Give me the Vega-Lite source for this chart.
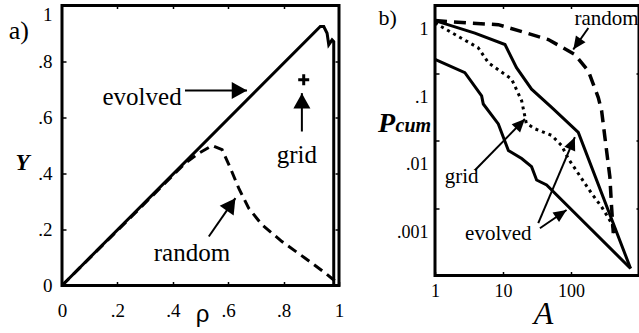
{
  "$schema": "https://vega.github.io/schema/vega-lite/v6.json",
  "background": "white",
  "padding": {"left": 7, "top": 2.5, "right": 0, "bottom": 50},
  "bounds": "flush",
  "spacing": 96,
  "config": {
    "view": {"stroke": "black", "strokeWidth": 3},
    "axis": {"domain": false, "grid": false, "offset": -4, "tickSize": 4, "tickWidth": 1.5, "tickColor": "black", "labelColor": "black", "labelFont": "Liberation Serif", "labelFlush": false, "labelOverlap": false, "titleColor": "black", "titleFont": "Liberation Serif", "titleFontWeight": "normal"},
    "text": {"font": "Liberation Serif", "color": "black"}
  },
  "datasets": {
    "a_evolved": [
      {"i": 0, "rho": 0, "Y": 0},
      {"i": 1, "rho": 0.9325, "Y": 0.925},
      {"i": 2, "rho": 0.945, "Y": 0.925},
      {"i": 3, "rho": 0.957, "Y": 0.901},
      {"i": 4, "rho": 0.963, "Y": 0.86},
      {"i": 5, "rho": 0.975, "Y": 0.877},
      {"i": 6, "rho": 0.981, "Y": 0.871},
      {"i": 7, "rho": 0.981, "Y": 0}
    ],
    "a_random": [
      {"i": 0, "rho": 0, "Y": 0},
      {"i": 1, "rho": 0.445, "Y": 0.437},
      {"i": 2, "rho": 0.494, "Y": 0.4725},
      {"i": 3, "rho": 0.542, "Y": 0.5},
      {"i": 4, "rho": 0.578, "Y": 0.485},
      {"i": 5, "rho": 0.608, "Y": 0.419},
      {"i": 6, "rho": 0.638, "Y": 0.3475},
      {"i": 7, "rho": 0.674, "Y": 0.276},
      {"i": 8, "rho": 0.722, "Y": 0.217},
      {"i": 9, "rho": 0.794, "Y": 0.157},
      {"i": 10, "rho": 0.878, "Y": 0.0975},
      {"i": 11, "rho": 0.951, "Y": 0.044},
      {"i": 12, "rho": 0.987, "Y": 0.015}
    ],
    "a_grid": [{"rho": 0.8726, "Y": 0.7346}],
    "a_arrows": [
      {"id": "evolved", "x1": 0.444, "y1": 0.696, "x2": 0.668, "y2": 0.696},
      {"id": "grid", "x1": 0.866, "y1": 0.55, "x2": 0.866, "y2": 0.687},
      {"id": "random", "x1": 0.53, "y1": 0.175, "x2": 0.626, "y2": 0.312}
    ],
    "a_labels": [
      {"label": "evolved", "rho": 0.289, "Y": 0.646},
      {"label": "grid", "rho": 0.848, "Y": 0.437},
      {"label": "random", "rho": 0.469, "Y": 0.089}
    ],
    "a_panel": [{"label": "a)", "rho": -0.1925, "Y": 0.879}],
    "b_evolved": [
      {"series": "upper", "i": 0, "A": 1, "P": 0.596},
      {"series": "upper", "i": 1, "A": 3.86, "P": 0.39},
      {"series": "upper", "i": 2, "A": 10.7, "P": 0.264},
      {"series": "upper", "i": 3, "A": 15.8, "P": 0.12},
      {"series": "upper", "i": 4, "A": 26.3, "P": 0.0575},
      {"series": "upper", "i": 5, "A": 51.9, "P": 0.0309},
      {"series": "upper", "i": 6, "A": 128, "P": 0.0132},
      {"series": "upper", "i": 7, "A": 752, "P": 0.000127},
      {"series": "lower", "i": 0, "A": 1, "P": 0.159},
      {"series": "lower", "i": 1, "A": 2.75, "P": 0.101},
      {"series": "lower", "i": 2, "A": 4.85, "P": 0.0459},
      {"series": "lower", "i": 3, "A": 5.13, "P": 0.0347},
      {"series": "lower", "i": 4, "A": 8.53, "P": 0.0176},
      {"series": "lower", "i": 5, "A": 12, "P": 0.00713},
      {"series": "lower", "i": 6, "A": 18.8, "P": 0.0054},
      {"series": "lower", "i": 7, "A": 26.3, "P": 0.0041},
      {"series": "lower", "i": 8, "A": 31.2, "P": 0.0026},
      {"series": "lower", "i": 9, "A": 43.8, "P": 0.0022},
      {"series": "lower", "i": 10, "A": 752, "P": 0.000127}
    ],
    "b_grid": [
      {"i": 0, "A": 1, "P": 0.55},
      {"i": 1, "A": 4.33, "P": 0.236},
      {"i": 2, "A": 6.08, "P": 0.142},
      {"i": 3, "A": 13.4, "P": 0.081},
      {"i": 4, "A": 18.8, "P": 0.0388},
      {"i": 5, "A": 22, "P": 0.018},
      {"i": 6, "A": 29.5, "P": 0.0149},
      {"i": 7, "A": 51.9, "P": 0.0119},
      {"i": 8, "A": 72.7, "P": 0.00844},
      {"i": 9, "A": 91.3, "P": 0.00538},
      {"i": 10, "A": 128, "P": 0.00324},
      {"i": 11, "A": 201, "P": 0.00164},
      {"i": 12, "A": 282, "P": 0.00104},
      {"i": 13, "A": 395, "P": 0.000596},
      {"i": 14, "A": 442, "P": 0.000425}
    ],
    "b_random": [
      {"i": 0, "A": 1, "P": 0.6},
      {"i": 1, "A": 3.09, "P": 0.55},
      {"i": 2, "A": 8.53, "P": 0.52},
      {"i": 3, "A": 46.4, "P": 0.313},
      {"i": 4, "A": 114, "P": 0.188},
      {"i": 5, "A": 180, "P": 0.107},
      {"i": 6, "A": 252, "P": 0.0433},
      {"i": 7, "A": 282, "P": 0.0276},
      {"i": 8, "A": 315, "P": 0.0112},
      {"i": 9, "A": 373, "P": 0.00288},
      {"i": 10, "A": 395, "P": 0.00104},
      {"i": 11, "A": 419, "P": 0.000425}
    ],
    "b_arrows": [
      {"id": "random", "x1": 180, "y1": 0.464, "x2": 108, "y2": 0.223},
      {"id": "grid", "x1": 3.86, "y1": 0.00362, "x2": 21, "y2": 0.0208},
      {"id": "evolved1", "x1": 33, "y1": 0.000596, "x2": 114, "y2": 0.0112},
      {"id": "evolved2", "x1": 34.9, "y1": 0.000502, "x2": 86.1, "y2": 0.000935}
    ],
    "b_labels": [
      {"label": "random", "A": 334, "P": 0.517},
      {"label": "grid", "A": 2.46, "P": 0.00233},
      {"label": "evolved", "A": 8.53, "P": 0.00034}
    ],
    "b_panel": [{"label": "b)", "A": 0.148, "P": 0.508}],
    "b_P": [{"label": "P", "A": 0.194, "P": 0.0133}],
    "b_cum": [{"label": "cum", "A": 0.263, "P": 0.0133}]
  },
  "hconcat": [
    {
      "width": 277,
      "height": 280,
      "resolve": {"axis": {"x": "independent", "y": "independent"}},
      "layer": [
        {
          "data": {"name": "a_evolved"},
          "mark": {"type": "line", "color": "black", "strokeWidth": 3},
          "encoding": {
            "x": {"field": "rho", "type": "quantitative", "scale": {"domain": [0, 1], "nice": false, "zero": false},
              "axis": {"orient": "bottom", "values": [0, 0.2, 0.4, 0.6, 0.8, 1], "labelExpr": "datum.value == 0 ? '0' : datum.value == 1 ? '1' : '.' + round(datum.value * 10)", "labelFontSize": 19, "labelPadding": 16, "title": "ρ", "titleFont": "Liberation Sans", "titleFontSize": 24, "titleX": 140, "titleY": 40, "titleAlign": "center", "titleBaseline": "alphabetic"}},
            "y": {"field": "Y", "type": "quantitative", "scale": {"domain": [0, 1], "nice": false, "zero": false},
              "axis": {"orient": "left", "values": [0, 0.2, 0.4, 0.6, 0.8, 1], "labelExpr": "datum.value == 0 ? '0' : datum.value == 1 ? '1' : '.' + round(datum.value * 10)", "labelFontSize": 19, "labelPadding": 10, "labelBaseline": {"condition": {"test": "datum.value == 1", "value": "top"}, "value": "middle"}, "title": "Y", "titleAngle": 0, "titleFontSize": 23, "titleFontStyle": "italic", "titleFontWeight": "bold", "titleX": -44, "titleY": 164, "titleAlign": "center", "titleBaseline": "alphabetic"}},
            "order": {"field": "i", "type": "quantitative"}
          }
        },
        {
          "data": {"name": "a_random"},
          "mark": {"type": "line", "color": "black", "strokeWidth": 3, "strokeDash": [10, 6]},
          "encoding": {
            "x": {"field": "rho", "type": "quantitative", "axis": {"orient": "top", "values": [0.2, 0.4, 0.6, 0.8], "labels": false, "title": null, "tickSize": 3, "offset": -3}},
            "y": {"field": "Y", "type": "quantitative", "axis": {"orient": "right", "values": [0.2, 0.4, 0.6, 0.8], "labels": false, "title": null}},
            "order": {"field": "i", "type": "quantitative"}
          }
        },
        {
          "data": {"name": "a_grid"},
          "mark": {"type": "point", "shape": "M-1,0L1,0M0,-1L0,1", "size": 121, "filled": false, "color": "black", "strokeWidth": 3, "opacity": 1},
          "encoding": {
            "x": {"field": "rho", "type": "quantitative", "axis": null},
            "y": {"field": "Y", "type": "quantitative", "axis": null}
          }
        },
        {
          "data": {"name": "a_arrows"},
          "mark": {"type": "rule", "color": "black", "strokeWidth": 2},
          "encoding": {"x": {"field": "x1", "type": "quantitative", "axis": null}, "y": {"field": "y1", "type": "quantitative", "axis": null}, "x2": {"field": "x2"}, "y2": {"field": "y2"}}
        },
        {
          "data": {"name": "a_arrows"},
          "transform": [{"filter": "datum.id == 'evolved'"}],
          "mark": {"type": "point", "shape": "M0,0L-1,1.8L1,1.8Z", "filled": true, "size": 289, "angle": 90, "color": "black", "opacity": 1, "strokeWidth": 0},
          "encoding": {"x": {"field": "x2", "type": "quantitative", "axis": null}, "y": {"field": "y2", "type": "quantitative", "axis": null}}
        },
        {
          "data": {"name": "a_arrows"},
          "transform": [{"filter": "datum.id == 'grid'"}],
          "mark": {"type": "point", "shape": "M0,0L-1,1.8L1,1.8Z", "filled": true, "size": 289, "angle": 0, "color": "black", "opacity": 1, "strokeWidth": 0},
          "encoding": {"x": {"field": "x2", "type": "quantitative", "axis": null}, "y": {"field": "y2", "type": "quantitative", "axis": null}}
        },
        {
          "data": {"name": "a_arrows"},
          "transform": [{"filter": "datum.id == 'random'"}],
          "mark": {"type": "point", "shape": "M0,0L-1,1.8L1,1.8Z", "filled": true, "size": 289, "angle": 34.8, "color": "black", "opacity": 1, "strokeWidth": 0},
          "encoding": {"x": {"field": "x2", "type": "quantitative", "axis": null}, "y": {"field": "y2", "type": "quantitative", "axis": null}}
        },
        {
          "data": {"name": "a_labels"},
          "mark": {"type": "text", "fontSize": 25, "align": "center", "baseline": "alphabetic", "font": "Liberation Serif"},
          "encoding": {
            "x": {"field": "rho", "type": "quantitative", "axis": null},
            "y": {"field": "Y", "type": "quantitative", "axis": null},
            "text": {"field": "label"}
          }
        },
        {
          "data": {"name": "a_panel"},
          "mark": {"type": "text", "fontSize": 26, "align": "left", "baseline": "alphabetic", "font": "Liberation Serif"},
          "encoding": {
            "x": {"field": "rho", "type": "quantitative", "axis": null},
            "y": {"field": "Y", "type": "quantitative", "axis": null},
            "text": {"field": "label"}
          }
        }
      ]
    },
    {
      "width": 204,
      "height": 270,
      "resolve": {"axis": {"x": "independent", "y": "independent"}},
      "layer": [
        {
          "data": {"name": "b_evolved"},
          "mark": {"type": "line", "color": "black", "strokeWidth": 3},
          "encoding": {
            "x": {"field": "A", "type": "quantitative", "scale": {"type": "log", "domain": [1, 1000], "nice": false},
              "axis": {"orient": "bottom", "values": [1, 10, 100], "format": "d", "labelFontSize": 18, "labelPadding": 7, "title": "A", "titleFontStyle": "italic", "titleFontSize": 32, "titleX": 108, "titleY": 52, "titleAlign": "center", "titleBaseline": "alphabetic"}},
            "y": {"field": "P", "type": "quantitative", "scale": {"type": "log", "domain": [0.0001, 1], "nice": false},
              "axis": {"orient": "left", "values": [1, 0.1, 0.01, 0.001], "labelExpr": "datum.value >= 1 ? '1' : datum.value >= 0.1 ? '.1' : datum.value >= 0.01 ? '.01' : '.001'", "labelFontSize": 18, "labelPadding": 7, "labelOffset": 24, "title": null}},
            "detail": {"field": "series"},
            "order": {"field": "i", "type": "quantitative"}
          }
        },
        {
          "data": {"name": "b_grid"},
          "mark": {"type": "line", "color": "black", "strokeWidth": 3, "strokeDash": [3, 4], "strokeCap": "butt"},
          "encoding": {
            "x": {"field": "A", "type": "quantitative", "axis": {"orient": "top", "values": [10, 100], "labels": false, "title": null, "tickSize": 3, "offset": -3}},
            "y": {"field": "P", "type": "quantitative", "axis": {"orient": "right", "values": [0.1, 0.01, 0.001], "labels": false, "title": null, "tickSize": 3, "offset": -3}},
            "order": {"field": "i", "type": "quantitative"}
          }
        },
        {
          "data": {"name": "b_random"},
          "mark": {"type": "line", "color": "black", "strokeWidth": 3.5, "strokeDash": [12, 7]},
          "encoding": {
            "x": {"field": "A", "type": "quantitative", "axis": null},
            "y": {"field": "P", "type": "quantitative", "axis": null},
            "order": {"field": "i", "type": "quantitative"}
          }
        },
        {
          "data": {"name": "b_arrows"},
          "mark": {"type": "rule", "color": "black", "strokeWidth": 2},
          "encoding": {"x": {"field": "x1", "type": "quantitative", "axis": null}, "y": {"field": "y1", "type": "quantitative", "axis": null}, "x2": {"field": "x2"}, "y2": {"field": "y2"}}
        },
        {
          "data": {"name": "b_arrows"},
          "transform": [{"filter": "datum.id == 'random'"}],
          "mark": {"type": "point", "shape": "M0,0L-0.9,2L0.9,2Z", "filled": true, "size": 169, "angle": -145, "color": "black", "opacity": 1, "strokeWidth": 0},
          "encoding": {"x": {"field": "x2", "type": "quantitative", "axis": null}, "y": {"field": "y2", "type": "quantitative", "axis": null}}
        },
        {
          "data": {"name": "b_arrows"},
          "transform": [{"filter": "datum.id == 'grid'"}],
          "mark": {"type": "point", "shape": "M0,0L-0.9,2L0.9,2Z", "filled": true, "size": 169, "angle": 44, "color": "black", "opacity": 1, "strokeWidth": 0},
          "encoding": {"x": {"field": "x2", "type": "quantitative", "axis": null}, "y": {"field": "y2", "type": "quantitative", "axis": null}}
        },
        {
          "data": {"name": "b_arrows"},
          "transform": [{"filter": "datum.id == 'evolved1'"}],
          "mark": {"type": "point", "shape": "M0,0L-0.9,2L0.9,2Z", "filled": true, "size": 169, "angle": 23, "color": "black", "opacity": 1, "strokeWidth": 0},
          "encoding": {"x": {"field": "x2", "type": "quantitative", "axis": null}, "y": {"field": "y2", "type": "quantitative", "axis": null}}
        },
        {
          "data": {"name": "b_arrows"},
          "transform": [{"filter": "datum.id == 'evolved2'"}],
          "mark": {"type": "point", "shape": "M0,0L-0.9,2L0.9,2Z", "filled": true, "size": 169, "angle": 56, "color": "black", "opacity": 1, "strokeWidth": 0},
          "encoding": {"x": {"field": "x2", "type": "quantitative", "axis": null}, "y": {"field": "y2", "type": "quantitative", "axis": null}}
        },
        {
          "data": {"name": "b_labels"},
          "mark": {"type": "text", "fontSize": 21, "align": "center", "baseline": "alphabetic", "font": "Liberation Serif"},
          "encoding": {
            "x": {"field": "A", "type": "quantitative", "axis": null},
            "y": {"field": "P", "type": "quantitative", "axis": null},
            "text": {"field": "label"}
          }
        },
        {
          "data": {"name": "b_panel"},
          "mark": {"type": "text", "fontSize": 22, "align": "left", "baseline": "alphabetic", "font": "Liberation Serif"},
          "encoding": {
            "x": {"field": "A", "type": "quantitative", "axis": null},
            "y": {"field": "P", "type": "quantitative", "axis": null},
            "text": {"field": "label"}
          }
        },
        {
          "data": {"name": "b_P"},
          "mark": {"type": "text", "fontSize": 28, "align": "center", "baseline": "alphabetic", "fontStyle": "italic", "fontWeight": "bold", "font": "Liberation Serif"},
          "encoding": {
            "x": {"field": "A", "type": "quantitative", "axis": null},
            "y": {"field": "P", "type": "quantitative", "axis": null},
            "text": {"field": "label"}
          }
        },
        {
          "data": {"name": "b_cum"},
          "mark": {"type": "text", "fontSize": 20, "align": "left", "baseline": "alphabetic", "fontStyle": "italic", "fontWeight": "bold", "font": "Liberation Serif"},
          "encoding": {
            "x": {"field": "A", "type": "quantitative", "axis": null},
            "y": {"field": "P", "type": "quantitative", "axis": null},
            "text": {"field": "label"}
          }
        }
      ]
    }
  ]
}
